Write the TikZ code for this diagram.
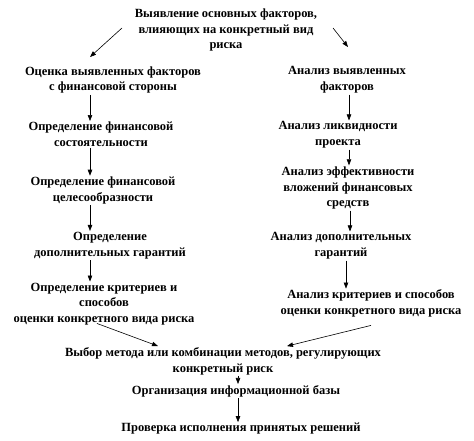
\documentclass[tikz,border=0pt]{standalone}
\usepackage{fontspec}
\setmainfont{Liberation Serif}
\usetikzlibrary{arrows.meta}
\tikzset{
  txt/.style={font=\bfseries\fontsize{12.5}{15.8}\selectfont, align=center, inner sep=1pt},
  arr/.style={-{Triangle[length=6pt,width=4.5pt]}, line width=0.6pt},
}
\begin{document}
\begin{tikzpicture}[x=1pt,y=-1pt]
\useasboundingbox (0,0) rectangle (474,441);
\node[txt] (T) at (226,30) {Выявление  основных  факторов,\\влияющих  на конкретный  вид\\риска};
\node[txt] (L1) at (113,80) {Оценка выявленных  факторов\\с финансовой стороны};
\node[txt] (L2) at (101,134.5) {Определение  финансовой\\состоятельности};
\node[txt] (L3) at (103,190.5) {Определение  финансовой\\целесообразности};
\node[txt] (L4) at (110,245.5) {Определение\\дополнительных  гарантий};
\node[txt] (L5) at (104,304) {Определение критериев  и\\способов\\оценки  конкретного вида риска};
\node[txt] (R1) at (347,80) {Анализ выявленных\\факторов};
\node[txt] (R2) at (338,135) {Анализ ликвидности\\проекта};
\node[txt] (R3) at (348,188) {Анализ эффективности\\вложений финансовых\\средств};
\node[txt] (R4) at (341,246) {Анализ дополнительных\\гарантий};
\node[txt] (R5) at (371,303.5) {Анализ критериев и способов\\оценки  конкретного вида риска};
\node[txt] (B1) at (223,361) {Выбор метода или комбинации методов, регулирующих\\конкретный риск};
\node[txt] (B2) at (236,391) {Организация информационной базы};
\node[txt] (B3) at (241,429) {Проверка исполнения принятых  решений};
\coordinate (ta) at (90,57);
\coordinate (tb) at (348,47);
\draw[arr] (122,28) -- (ta);
\draw[arr] (333,28) -- (tb);
\foreach \a/\b in {L1/L2,L2/L3,L3/L4,L4/L5}
  \draw[arr] (\a.south -| 90,0) -- (\b.north -| 90,0);
\draw[arr] (R1.south -| 349,0) -- (R2.north -| 349,0);
\draw[arr] (R2.south -| 349,0) -- (R3.north -| 349,0);
\draw[arr] (R3.south -| 350,0) -- (R4.north -| 350,0);
\draw[arr] (R4.south -| 346,0) -- (R5.north -| 346,0);
\draw[arr] (L5.south) ++(-7,-3) -- (B1.north -| 158,0);
\draw[arr] (R5.south) ++(0,7) -- (B1.north -| 287,0);
\draw[arr] (B1.south -| 238,0) -- (B2.north -| 238,0);
\draw[arr] (B2.south -| 238,0) -- (B3.north -| 238,0);
\end{tikzpicture}
\end{document}
